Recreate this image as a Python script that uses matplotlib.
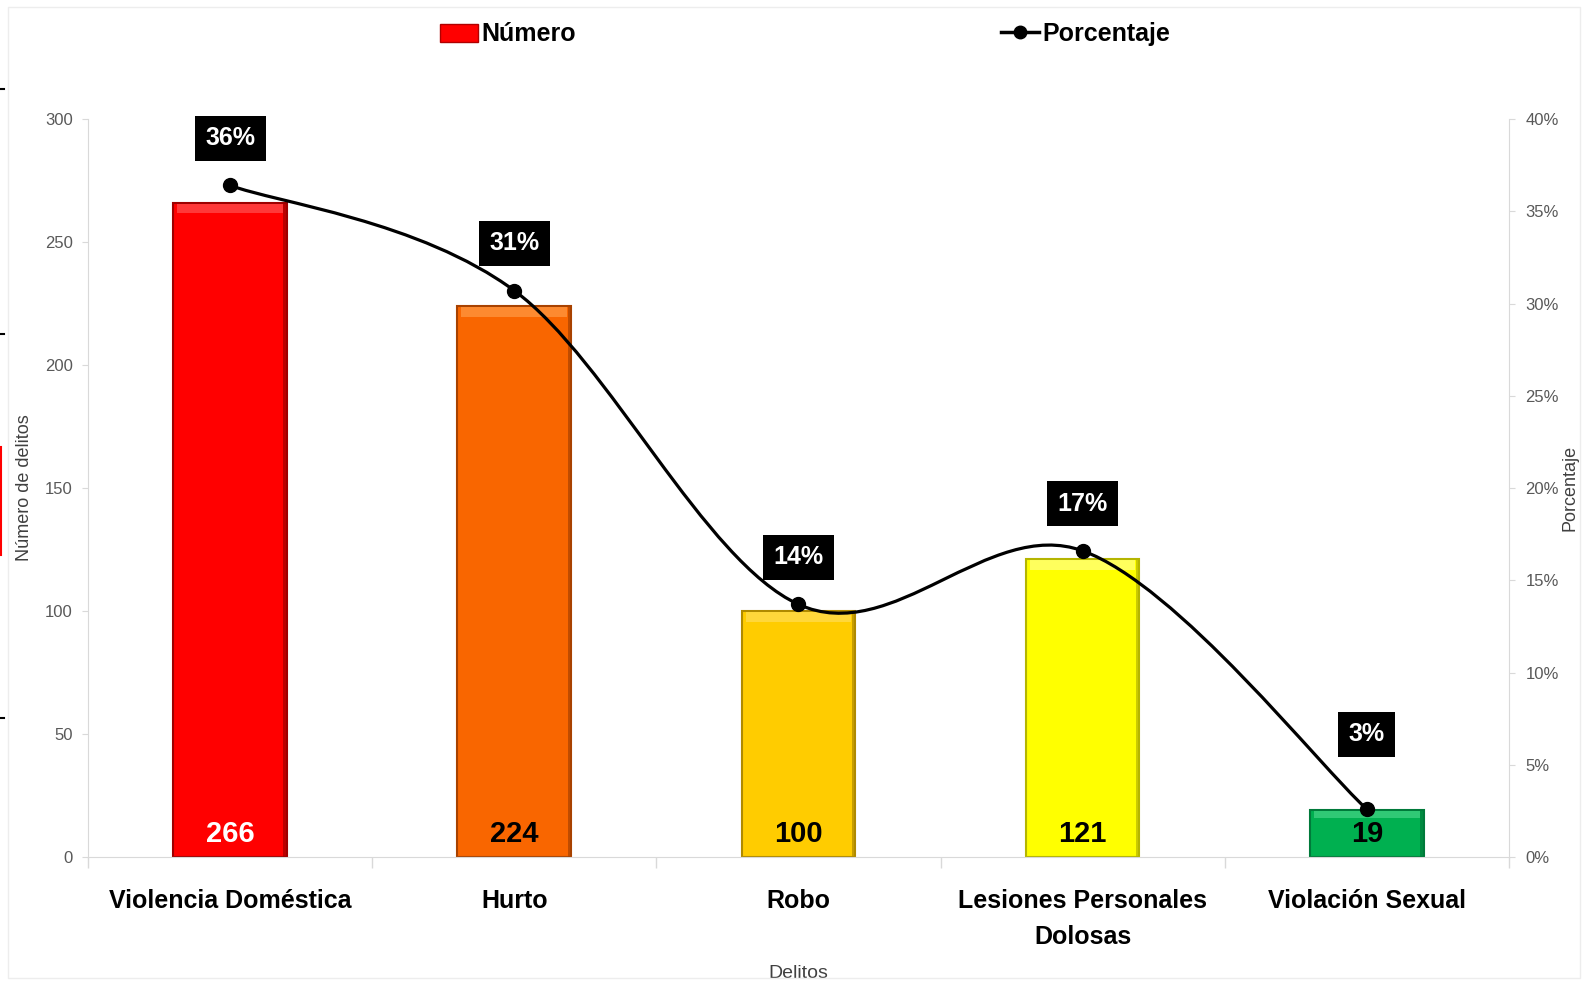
import matplotlib
matplotlib.use('Agg')
import matplotlib.pyplot as plt
import numpy as np
from matplotlib.path import Path
from matplotlib.patches import PathPatch, Patch, Rectangle
from matplotlib.lines import Line2D

plt.rcParams['font.family'] = ['Liberation Sans', 'DejaVu Sans']

# data
categories = ['Violencia Doméstica', 'Hurto', 'Robo', 'Lesiones Personales\nDolosas', 'Violación Sexual']
counts = [266, 224, 100, 121, 19]
percentages = [36.4, 30.7, 13.7, 16.6, 2.6]
pct_labels = ['36%', '31%', '14%', '17%', '3%']

bar_colors = ['#FF0000', '#F96600', '#FFCC00', '#FFFF00', '#00B050']
edge_colors = ['#9E0000', '#A84200', '#B08A00', '#B5B500', '#007A3A']
shine_colors = ['#FF5050', '#FF9A45', '#FFDD55', '#FFFF85', '#45D585']
count_text_colors = ['white', 'black', 'black', 'black', 'black']
label_offsets = [34, 34, 34, 34, 54]   # points above each marker

fig = plt.figure(figsize=(15.85, 9.83), dpi=100)
ax = fig.add_axes([0.0555, 0.128, 0.8965, 0.751])
ax2 = ax.twinx()

x = np.arange(len(categories))
w = 0.40

# bars with a simple bevel look
ax.bar(x, counts, w, color=bar_colors, edgecolor=edge_colors, linewidth=1.5, zorder=2)
for xi, h, sc, ec in zip(x, counts, shine_colors, edge_colors):
    dh = min(4.0, h * 0.15)
    ax.bar(xi, dh, w * 0.93, bottom=h - dh * 1.1, color=sc, alpha=0.7, linewidth=0, zorder=3)
    ax.bar(xi + w / 2 - 0.006, h, 0.012, color=ec, alpha=0.7, linewidth=0, zorder=3)

for xi, h, tc in zip(x, counts, count_text_colors):
    ax.annotate(str(h), (xi, 0), xytext=(0, 11), textcoords='offset points',
                ha='center', va='baseline', fontsize=21, fontweight='bold', color=tc, zorder=4)

# smoothed percentage line (cardinal spline as bezier segments)
pts = np.column_stack([x, percentages]).astype(float)
n = len(pts)
verts = [tuple(pts[0])]
codes = [Path.MOVETO]
for i in range(n - 1):
    p0 = pts[max(i - 1, 0)]
    p1 = pts[i]
    p2 = pts[i + 1]
    p3 = pts[min(i + 2, n - 1)]
    c1 = p1 + (p2 - p0) / 6
    c2 = p2 - (p3 - p1) / 6
    verts += [tuple(c1), tuple(c2), tuple(p2)]
    codes += [Path.CURVE4] * 3
ax2.add_patch(PathPatch(Path(verts, codes), fill=False, ec='black', lw=2.3, zorder=5))
ax2.plot(x, percentages, 'o', color='black', ms=10, zorder=6)

for xi, p, lbl, off in zip(x, percentages, pct_labels, label_offsets):
    ax2.annotate(lbl, (xi, p), xytext=(0, off), textcoords='offset points',
                 ha='center', va='center', color='white', fontsize=18, fontweight='bold',
                 bbox=dict(boxstyle='square,pad=0.42', fc='black', ec='none'), zorder=7)

# axes styling
grey = '#D9D9D9'
ax.set_xlim(-0.5, len(categories) - 0.5)
ax.set_ylim(0, 300)
ax2.set_ylim(0, 40)
ax.set_yticks(np.arange(0, 301, 50))
ax2.set_yticks(np.arange(0, 41, 5))
ax2.set_yticklabels([f'{v}%' for v in range(0, 41, 5)])

ax.set_xticks(x)
ax.set_xticklabels(categories, fontsize=18, fontweight='bold', color='black', linespacing=1.65)
ax.set_xticks(np.arange(-0.5, len(categories), 1.0), minor=True)
ax.tick_params(axis='x', which='major', length=0, pad=23)
ax.tick_params(axis='x', which='minor', length=8, color=grey, width=1)
ax.tick_params(axis='y', length=4, color=grey, labelsize=12, labelcolor='#595959', pad=7)
ax2.tick_params(axis='y', length=4, color=grey, labelsize=12, labelcolor='#595959', pad=8)

for s in ['top', 'right']:
    ax.spines[s].set_visible(False)
for s in ['top', 'left', 'bottom']:
    ax2.spines[s].set_visible(False)
ax.spines['left'].set_color(grey)
ax.spines['bottom'].set_color(grey)
ax2.spines['right'].set_color(grey)

ax.set_ylabel('Número de delitos', fontsize=13, color='#404040')
ax.yaxis.set_label_coords(-0.0387, 0.5)
ax2.set_ylabel('Porcentaje', fontsize=13, color='#404040')
ax2.yaxis.set_label_coords(1.037, 0.5)
ax.set_xlabel('Delitos', fontsize=14, color='#404040')
ax.xaxis.set_label_coords(0.5, -0.146)

handles = [Patch(fc='#FF0000', ec='#B00000'),
           Line2D([], [], color='black', lw=2.5, marker='o', ms=9)]
fig.legend(handles, ['Número', 'Porcentaje'], loc='center', bbox_to_anchor=(0.508, 0.965),
           ncol=2, frameon=False, prop=dict(weight='bold', size=18),
           handlelength=1.5, handleheight=0.75, handletextpad=0.15, columnspacing=17)

# faint chart-area border and edge marks from the source image
fig.add_artist(Rectangle((8 / 1585, 5 / 983), 1572 / 1585, 971 / 983, transform=fig.transFigure,
                         fill=False, ec='#EDEDED', lw=1))
for yy in [89, 334, 718]:
    fig.add_artist(Line2D([0, 4 / 1585], [1 - yy / 983] * 2, color='black', lw=1.5, transform=fig.transFigure))
fig.add_artist(Line2D([0.5 / 1585] * 2, [1 - 447 / 983, 1 - 555 / 983], color='red', lw=1.5,
                      transform=fig.transFigure))

fig.savefig('out.png', dpi=100)
